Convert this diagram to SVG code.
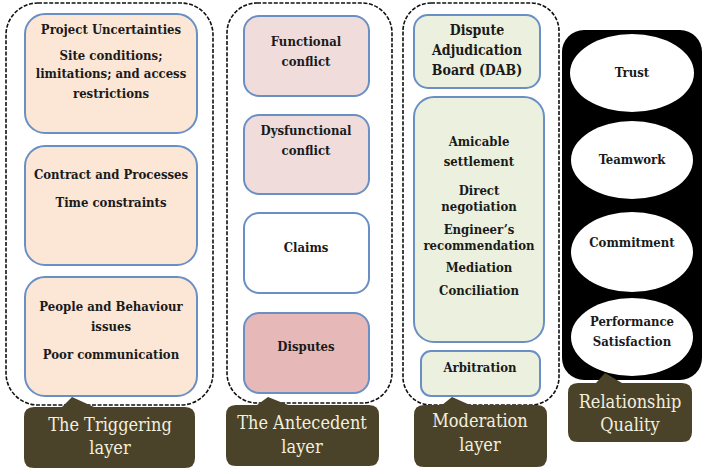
<svg xmlns="http://www.w3.org/2000/svg" width="709" height="474" viewBox="0 0 709 474">
<style>
.cont{fill:none;stroke:#111;stroke-width:1.6;stroke-dasharray:4 1.6}
.box{stroke:#6a8fc4;stroke-width:2}
.trig{fill:#fce6d6}
.pink{fill:#f1dcdc}
.white{fill:#fff}
.dis{fill:#e6b8b8}
.mod{fill:#ebf1de}
text{font-family:"DejaVu Serif Condensed","DejaVu Serif","Liberation Serif",serif;font-stretch:condensed}
.t{font-weight:bold;fill:#1a1a1a;text-anchor:middle}
.s13{font-size:13px}
.s14{font-size:14px}
.lab{fill:#4b4329}
.lt{font-size:18px;fill:#f3efdf;text-anchor:middle}
.ell{fill:#fff}
</style>
<g id="triggering-layer">
<rect class="cont" x="6" y="3" width="207" height="402" rx="32"/>
<g id="project-uncertainties">
<rect class="box trig" x="25" y="14" width="172" height="119" rx="20"/>
<text class="t s13" x="111" y="34">Project Uncertainties</text>
<text class="t s13" x="111" y="60">Site conditions;</text>
<text class="t s13" x="111" y="78">limitations; and access</text>
<text class="t s13" x="111" y="98">restrictions</text>
</g>
<g id="contract-processes">
<rect class="box trig" x="25" y="146" width="172" height="119" rx="20"/>
<text class="t s13" x="111" y="179">Contract and Processes</text>
<text class="t s13" x="111" y="207">Time constraints</text>
</g>
<g id="people-behaviour">
<rect class="box trig" x="25" y="277" width="172" height="119" rx="20"/>
<text class="t s13" x="111" y="311">People and Behaviour</text>
<text class="t s13" x="111" y="331">issues</text>
<text class="t s13" x="111" y="359">Poor communication</text>
</g>
<g id="label-triggering">
<path class="lab" d="M34 407 L62 407 L72 397 L94 407 L185 407 Q195 407 195 417 L195 458 Q195 468 185 468 L34 468 Q24 468 24 458 L24 417 Q24 407 34 407 Z"/>
<text class="lt" x="110" y="431">The Triggering</text>
<text class="lt" x="110" y="454">layer</text>
</g>
</g>
<g id="antecedent-layer">
<rect class="cont" x="227" y="3" width="165" height="400" rx="30"/>
<g id="functional-conflict">
<rect class="box pink" x="244" y="16" width="125" height="80" rx="15"/>
<text class="t s13" x="306" y="46">Functional</text>
<text class="t s13" x="306" y="66">conflict</text>
</g>
<g id="dysfunctional-conflict">
<rect class="box pink" x="244" y="115" width="125" height="79" rx="15"/>
<text class="t s13" x="306" y="135">Dysfunctional</text>
<text class="t s13" x="306" y="155">conflict</text>
</g>
<g id="claims">
<rect class="box white" x="244" y="213" width="125" height="80" rx="15"/>
<text class="t s13" x="306" y="252">Claims</text>
</g>
<g id="disputes">
<rect class="box dis" x="244" y="313" width="125" height="80" rx="15"/>
<text class="t s13" x="306" y="351">Disputes</text>
</g>
<g id="label-antecedent">
<path class="lab" d="M236 405 L257 405 L268 397 L288 405 L369 405 Q379 405 379 415 L379 456 Q379 466 369 466 L236 466 Q226 466 226 456 L226 415 Q226 405 236 405 Z"/>
<text class="lt" x="302" y="429">The Antecedent</text>
<text class="lt" x="302" y="453">layer</text>
</g>
</g>
<g id="moderation-layer">
<rect class="cont" x="403" y="3" width="156" height="402" rx="28"/>
<g id="dab">
<rect class="box mod" x="414" y="15" width="126" height="73" rx="14"/>
<text class="t s14" x="477" y="35">Dispute</text>
<text class="t s14" x="477" y="55">Adjudication</text>
<text class="t s14" x="477" y="75">Board (DAB)</text>
</g>
<g id="amicable">
<rect class="box mod" x="414" y="97" width="130" height="245" rx="20"/>
<text class="t s13" x="479" y="146">Amicable</text>
<text class="t s13" x="479" y="166">settlement</text>
<text class="t s13" x="479" y="195">Direct</text>
<text class="t s13" x="479" y="211">negotiation</text>
<text class="t s13" x="479" y="234">Engineer’s</text>
<text class="t s13" x="479" y="250">recommendation</text>
<text class="t s13" x="479" y="272">Mediation</text>
<text class="t s13" x="479" y="295">Conciliation</text>
</g>
<g id="arbitration">
<rect class="box mod" x="421" y="351" width="119" height="45" rx="10"/>
<text class="t s13" x="480" y="372">Arbitration</text>
</g>
<g id="label-moderation">
<path class="lab" d="M424 405 L442 405 L452 397 L470 405 L537 405 Q547 405 547 415 L547 457 Q547 467 537 467 L424 467 Q414 467 414 457 L414 415 Q414 405 424 405 Z"/>
<text class="lt" x="480" y="427">Moderation</text>
<text class="lt" x="480" y="451">layer</text>
</g>
</g>
<g id="relationship-quality">
<rect x="562" y="30" width="140" height="350" rx="22" fill="#000"/>
<g id="trust">
<ellipse class="ell" cx="632" cy="73" rx="62" ry="39"/>
<text class="t s13" x="632" y="77">Trust</text>
</g>
<g id="teamwork">
<ellipse class="ell" cx="632" cy="160" rx="61" ry="39"/>
<text class="t s13" x="632" y="164">Teamwork</text>
</g>
<g id="commitment">
<ellipse class="ell" cx="632" cy="252" rx="61" ry="40"/>
<text class="t s13" x="632" y="247">Commitment</text>
</g>
<g id="performance">
<ellipse class="ell" cx="632" cy="337" rx="61" ry="39"/>
<text class="t s13" x="632" y="326">Performance</text>
<text class="t s13" x="632" y="346">Satisfaction</text>
</g>
<g id="label-rq">
<path class="lab" d="M578 383 L596 383 L605 373 L622 383 L682 383 Q692 383 692 393 L692 432 Q692 442 682 442 L578 442 Q568 442 568 432 L568 393 Q568 383 578 383 Z"/>
<text class="lt" x="630" y="408">Relationship</text>
<text class="lt" x="630" y="431">Quality</text>
</g>
</g>
<g id="connectors"></g>
</svg>
